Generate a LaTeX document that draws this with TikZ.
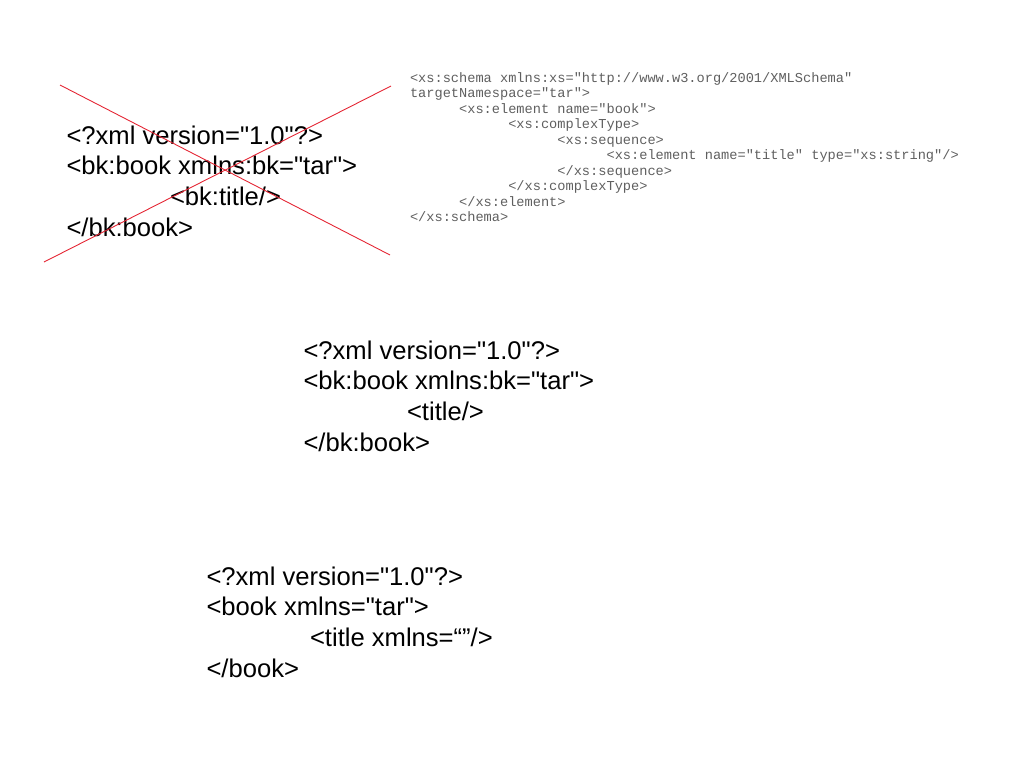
\documentclass[tikz,border=0pt]{standalone}
\usepackage{fontspec}
\setmainfont{Liberation Sans}[Ligatures=TeXOff]
\setmonofont{Liberation Mono}
\usepackage{tikz}

\definecolor{crossred}{RGB}{228,38,52}
\definecolor{schemagray}{RGB}{95,95,95}
\newcommand{\tabin}{\hspace*{103.5pt}}
\newcommand{\xsin}[1]{\hspace*{#1\dimexpr 3.6em\relax}}

\tikzset{
  xmlblock/.style={anchor=base west, inner sep=0pt, outer sep=0pt,
    font=\fontsize{25.6}{30.7}\selectfont},
  schemablock/.style={anchor=base west, inner sep=0pt, outer sep=0pt,
    text=schemagray, font=\ttfamily\fontsize{13.65}{15.55}\selectfont},
  cross/.style={draw=crossred, line width=0.9pt}
}

\begin{document}
\begin{tikzpicture}[x=1pt, y=-1pt]
    \useasboundingbox (0,0) rectangle (1024,768);

    % first instance, crossed out
    \node[xmlblock] (wrong) at (66.5,144) {\begin{tabular}[t]{@{}l@{}}
        <?xml version="1.0"?>\\
        <bk:book xmlns:bk="tar">\\
        \tabin<bk:title/>\\
        </bk:book>
    \end{tabular}};
    \draw[cross] (60,85) -- (390,255);
    \draw[cross] (44,262) -- (391,86);

    % schema
    \node[schemablock] (schema) at (410,82) {\begin{tabular}[t]{@{}l@{}}
        <xs:schema xmlns:xs="http://www.w3.org/2001/XMLSchema"\\
        targetNamespace="tar">\\
        \xsin{1}<xs:element name="book">\\
        \xsin{2}<xs:complexType>\\
        \xsin{3}<xs:sequence>\\
        \xsin{4}<xs:element name="title" type="xs:string"/>\\
        \xsin{3}</xs:sequence>\\
        \xsin{2}</xs:complexType>\\
        \xsin{1}</xs:element>\\
        </xs:schema>
    \end{tabular}};

    % second instance
    \node[xmlblock] (unqual) at (303.5,359) {\begin{tabular}[t]{@{}l@{}}
        <?xml version="1.0"?>\\
        <bk:book xmlns:bk="tar">\\
        \tabin<title/>\\
        </bk:book>
    \end{tabular}};

    % third instance
    \node[xmlblock] (default) at (206.5,585) {\begin{tabular}[t]{@{}l@{}}
        <?xml version="1.0"?>\\
        <book xmlns="tar">\\
        \tabin<title xmlns=“”/>\\
        </book>
    \end{tabular}};
\end{tikzpicture}
\end{document}
